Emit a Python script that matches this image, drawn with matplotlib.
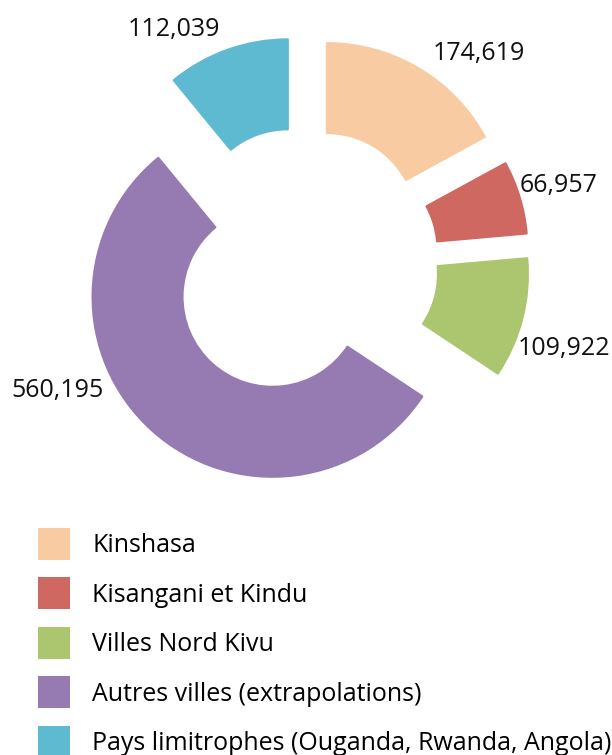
import matplotlib.pyplot as plt
from matplotlib.patches import Patch

# données
categories = [
    "Kinshasa",
    "Kisangani et Kindu",
    "Villes Nord Kivu",
    "Autres villes (extrapolations)",
    "Pays limitrophes (Ouganda, Rwanda, Angola)",
]
values = [174619, 66957, 109922, 560195, 112039]
value_labels = ["174,619", "66,957", "109,922", "560,195", "112,039"]

# style
colors = ["#F9CBA2", "#CF6860", "#ABC66E", "#957BB2", "#5EBAD0"]
label_xy = [(0.975, 1.126), (1.419, 0.392), (1.450, -0.513), (-1.369, -0.747), (-0.719, 1.259)]
FONT = "Open Sans"
FS = 18


def demo():
    fig = plt.figure(figsize=(6.12, 7.55), dpi=100)
    ax = fig.add_axes([0.0547, 0.2946, 0.882, 0.715])

    # anneau éclaté, sens horaire à partir du haut
    wedges, _ = ax.pie(
        values,
        colors=colors,
        startangle=90,
        counterclock=False,
        radius=1.0,
        explode=[0.256] * len(values),
        wedgeprops=dict(width=0.5, linewidth=1.5, joinstyle="round"),
    )
    for w, c in zip(wedges, colors):
        w.set_edgecolor(c)

    # étiquettes de valeurs
    for txt, (x, y) in zip(value_labels, label_xy):
        ax.text(x, y, txt, ha="center", va="baseline", fontsize=FS,
                family=FONT, color="#111111")

    ax.set_xlim(-1.5, 1.5)
    ax.set_ylim(-1.5, 1.5)
    ax.set_aspect("equal")
    ax.axis("off")

    # légende
    handles = [Patch(facecolor=c, edgecolor="none") for c in colors]
    fig.legend(
        handles, categories,
        loc="upper left",
        bbox_to_anchor=(38 / 612, 1 - 528 / 755),
        frameon=False,
        prop=dict(family=FONT, size=FS),
        handlelength=1.28,
        handleheight=1.59,
        handletextpad=0.9,
        labelspacing=0.7,
        borderpad=0,
        borderaxespad=0,
    )

    fig.savefig("out.png", dpi=100)


if __name__ == "__main__":
    demo()
